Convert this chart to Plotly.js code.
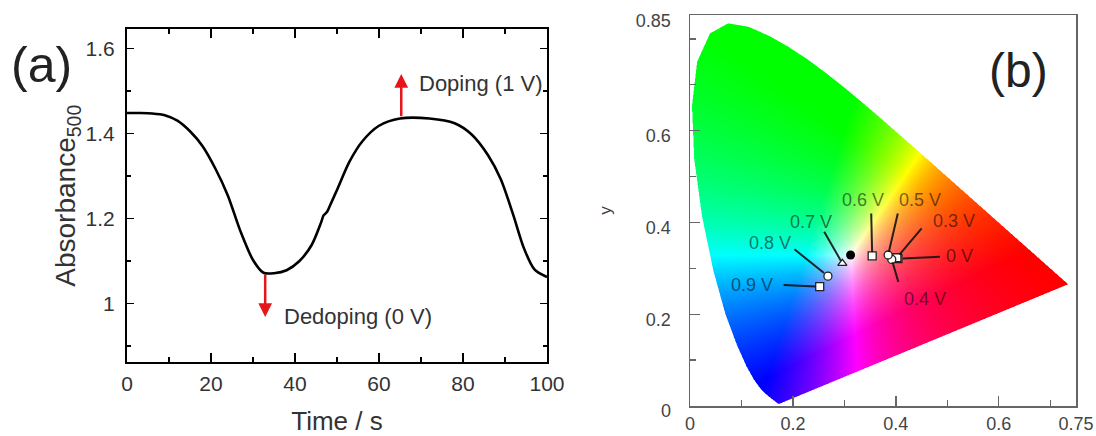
<!DOCTYPE html>
<html>
<head>
<meta charset="utf-8">
<script src="https://cdn.plot.ly/plotly-3.0.1.min.js"></script>
<style>
  html, body { margin: 0; padding: 0; background: #ffffff; }
  #chart { width: 1096px; height: 436px; }
</style>
</head>
<body>
<div id="chart"></div>
<script>
// ---------- (a) absorbance at 500 nm over one doping / dedoping cycle ----------
const timeS = [0, 3, 6, 9, 12, 15, 18, 21, 24, 27, 30, 32.5, 35, 38, 41, 44,
               46.2, 46.8, 47.6, 48.5, 50, 53, 56, 60, 65, 72, 78, 82, 86, 89,
               92, 94.5, 97, 100];
const absorbance500 = [1.448, 1.448, 1.447, 1.443, 1.430, 1.405, 1.370, 1.318,
                       1.254, 1.170, 1.102, 1.072, 1.071, 1.078, 1.099, 1.138,
                       1.190, 1.207, 1.215, 1.234, 1.267, 1.334, 1.381, 1.418,
                       1.435, 1.435, 1.424, 1.398, 1.348, 1.292, 1.207, 1.130,
                       1.080, 1.062];
const timeTicks = [0, 20, 40, 60, 80, 100];
const timeTickText = ['0', '20', '40', '60', '80', '100'];
const absTicks = [1, 1.2, 1.4, 1.6];
const absTickText = ['1', '1.2', '1.4', '1.6'];

// ---------- (b) CIE 1931 chromaticity at each applied potential ----------
const potentials = ['0 V', '0.3 V', '0.4 V', '0.5 V', '0.6 V', '0.7 V', '0.8 V', '0.9 V'];
const cieX = [0.404, 0.402, 0.392, 0.385, 0.354, 0.296, 0.268, 0.252];
const cieY = [0.321, 0.323, 0.3195, 0.329, 0.327, 0.311, 0.283, 0.260];
const markerSymbols = ['square', 'square', 'circle', 'circle', 'square',
                       'triangle-up', 'circle', 'square'];
const whitePointX = [0.312];
const whitePointY = [0.329];
const chromXTicks = [0, 0.2, 0.4, 0.6, 0.75];
const chromXTickText = ['0', '0.2', '0.4', '0.6', '0.75'];
const chromYTicks = [0, 0.2, 0.4, 0.6, 0.85];
const chromYTickText = ['0', '0.2', '0.4', '0.6', '0.85'];

// spectral locus of the CIE 1931 2° standard observer, 380–700 nm
const locusX = [0.1741, 0.1740, 0.1738, 0.1736, 0.1733, 0.1730, 0.1726, 0.1721,
                0.1714, 0.1703, 0.1689, 0.1669, 0.1644, 0.1611, 0.1566, 0.1510,
                0.1440, 0.1355, 0.1241, 0.1096, 0.0913, 0.0687, 0.0454, 0.0235,
                0.0082, 0.0039, 0.0139, 0.0389, 0.0743, 0.1142, 0.1547, 0.1929,
                0.2296, 0.2658, 0.3016, 0.3373, 0.3731, 0.4087, 0.4441, 0.4788,
                0.5125, 0.5448, 0.5752, 0.6029, 0.6270, 0.6482, 0.6658, 0.6801,
                0.6915, 0.7006, 0.7079, 0.7140, 0.7190, 0.7230, 0.7260, 0.7300,
                0.7320, 0.7334, 0.7347];
const locusY = [0.0050, 0.0050, 0.0049, 0.0049, 0.0048, 0.0048, 0.0048, 0.0048,
                0.0051, 0.0058, 0.0069, 0.0086, 0.0109, 0.0138, 0.0177, 0.0227,
                0.0297, 0.0399, 0.0578, 0.0868, 0.1327, 0.2007, 0.2950, 0.4127,
                0.5384, 0.6548, 0.7502, 0.8120, 0.8338, 0.8262, 0.8059, 0.7816,
                0.7543, 0.7243, 0.6923, 0.6589, 0.6245, 0.5896, 0.5547, 0.5202,
                0.4866, 0.4544, 0.4242, 0.3965, 0.3725, 0.3514, 0.3340, 0.3197,
                0.3083, 0.2993, 0.2920, 0.2859, 0.2809, 0.2770, 0.2740, 0.2700,
                0.2680, 0.2666, 0.2653];

const X_MAX = 0.75;
const Y_MAX = 0.852;

// xy chromaticity -> display RGB at full brightness (out-of-gamut parts clipped)
function xyToRgb(x, y) {
  const X = x / y, Y = 1, Z = (1 - x - y) / y;
  let r = 3.2406 * X - 1.5372 * Y - 0.4986 * Z;
  let g = -0.9689 * X + 1.8758 * Y + 0.0415 * Z;
  let b = 0.0557 * X - 0.2040 * Y + 1.0570 * Z;
  r = Math.max(r, 0); g = Math.max(g, 0); b = Math.max(b, 0);
  const m = Math.max(r, g, b) || 1;
  return [r, g, b].map(v => Math.round(255 * v / m));
}
function insideLocus(px, py) {
  let c = false;
  const n = locusX.length;
  for (let i = 0, j = n - 1; i < n; j = i++) {
    const xi = locusX[i], yi = locusY[i], xj = locusX[j], yj = locusY[j];
    if ((yi > py) !== (yj > py) && px < (xj - xi) * (py - yi) / (yj - yi) + xi) c = !c;
  }
  return c;
}
// colour field of the chromaticity diagram, one cell per screen pixel
function buildGamut(cols, rows) {
  const dx = X_MAX / cols, dy = Y_MAX / rows;
  const sub = [[-0.25, -0.25], [0.25, -0.25], [-0.25, 0.25], [0.25, 0.25]];
  const z = [];
  for (let r = 0; r < rows; r++) {
    const y = (r + 0.5) * dy;
    const row = [];
    for (let c = 0; c < cols; c++) {
      const x = (c + 0.5) * dx;
      let cov = 0;
      for (const s of sub) if (insideLocus(x + s[0] * dx, y + s[1] * dy)) cov++;
      if (!cov) { row.push([255, 255, 255, 0]); continue; }
      const rgb = xyToRgb(x, y);
      row.push([rgb[0], rgb[1], rgb[2], cov / 4]);
    }
    z.push(row);
  }
  return { z, dx, dy };
}
const gamut = buildGamut(386, 391);

const FONT = 'Liberation Sans, Arial, Helvetica, sans-serif';

const traces = [
  {
    type: 'scatter', mode: 'lines', x: timeS, y: absorbance500,
    xaxis: 'x', yaxis: 'y',
    line: { color: '#000000', width: 2.6, shape: 'spline', smoothing: 0.8 },
    hoverinfo: 'skip'
  },
  {
    type: 'image', xaxis: 'x2', yaxis: 'y2', colormodel: 'rgba',
    z: gamut.z, x0: gamut.dx / 2, y0: gamut.dy / 2, dx: gamut.dx, dy: gamut.dy,
    hoverinfo: 'skip'
  },
  {
    type: 'scatter', mode: 'markers', x: cieX, y: cieY, text: potentials,
    xaxis: 'x2', yaxis: 'y2',
    marker: { symbol: markerSymbols, size: 8, color: '#ffffff',
              line: { color: '#222222', width: 1.3 } },
    hoverinfo: 'text'
  },
  {
    type: 'scatter', mode: 'markers', x: whitePointX, y: whitePointY,
    xaxis: 'x2', yaxis: 'y2',
    marker: { symbol: 'circle', size: 9, color: '#000000' },
    hoverinfo: 'skip'
  }
];

// callout placement around each point (px): label centre, leader start, gap at the marker
const callouts = [
  { lx: 62,   ly: -2.7,  sx: 43.5, sy: -2,   gap: 5 },
  { lx: 57,   ly: -36.7, sx: 26,   sy: -31,  gap: 4 },
  { lx: 33,   ly: 39.7,  sx: 7,    sy: 24,   gap: 3 },
  { lx: 31.5, ly: -55,   sx: 10,   sy: -43,  gap: 3 },
  { lx: -8.7, ly: -56,   sx: -1,   sy: -44,  gap: 4 },
  { lx: -31.7,ly: -41.6, sx: -19,  sy: -33,  gap: 3 },
  { lx: -58,  ly: -33.5, sx: -35,  sy: -28,  gap: 5 },
  { lx: -68,  ly: -1.7,  sx: -37.6,sy: -1.7, gap: 4 }
];

const annotations = [];
potentials.forEach((p, i) => {
  const c = callouts[i];
  annotations.push({
    xref: 'x2', yref: 'y2', x: cieX[i], y: cieY[i],
    ax: c.sx, ay: c.sy, text: '',
    showarrow: true, arrowhead: 0, arrowwidth: 2, standoff: c.gap,
    arrowcolor: 'rgba(20,20,20,0.9)'
  });
  annotations.push({
    xref: 'x2', yref: 'y2', x: cieX[i], y: cieY[i],
    xshift: c.lx, yshift: -c.ly, text: p, showarrow: false,
    xanchor: 'center', yanchor: 'middle',
    font: { family: FONT, size: 18, color: 'rgba(0,0,0,0.55)' }
  });
});

// doping / dedoping arrows in (a)
annotations.push(
  { xref: 'x', yref: 'y', axref: 'x', ayref: 'y', x: 65.3, y: 1.54, ax: 65.3, ay: 1.437,
    text: '', showarrow: true, arrowhead: 2, arrowsize: 1.1,
    arrowwidth: 2.5, arrowcolor: '#e8141c', standoff: 0 },
  { xref: 'x', yref: 'y', axref: 'x', ayref: 'y', x: 32.9, y: 0.968, ax: 32.9, ay: 1.071,
    text: '', showarrow: true, arrowhead: 2, arrowsize: 1.1,
    arrowwidth: 2.5, arrowcolor: '#e8141c', standoff: 0 },
  { xref: 'x', yref: 'y', x: 69.0, y: 1.518, text: 'Doping (1 V)', showarrow: false,
    xanchor: 'left', yanchor: 'middle', font: { family: FONT, size: 22, color: '#333333' } },
  { xref: 'x', yref: 'y', x: 36.8, y: 0.968, text: 'Dedoping (0 V)', showarrow: false,
    xanchor: 'left', yanchor: 'middle', font: { family: FONT, size: 22, color: '#333333' } },
  { xref: 'paper', yref: 'paper', x: 41 / 1096, y: 1 - 65 / 436, text: '(a)', showarrow: false,
    xanchor: 'center', yanchor: 'middle', font: { family: FONT, size: 50, color: '#222222' } },
  { xref: 'paper', yref: 'paper', x: 1018 / 1096, y: 1 - 70 / 436, text: '(b)', showarrow: false,
    xanchor: 'center', yanchor: 'middle', font: { family: FONT, size: 48, color: '#222222' } }
);

const layout = {
  width: 1096, height: 436,
  margin: { l: 0, r: 0, t: 0, b: 0 },
  paper_bgcolor: '#ffffff', plot_bgcolor: '#ffffff',
  showlegend: false,
  font: { family: FONT, color: '#333333' },
  xaxis: {
    domain: [127 / 1096, 547 / 1096], anchor: 'y', range: [0, 100],
    tickmode: 'array', tickvals: timeTicks, ticktext: timeTickText,
    ticks: 'inside', ticklen: 9, tickwidth: 1.6, tickcolor: '#000000',
    minor: { tickmode: 'linear', tick0: 0, dtick: 10, ticks: 'inside', ticklen: 5,
             tickwidth: 1.6, tickcolor: '#000000' },
    showline: true, linecolor: '#000000', linewidth: 2, mirror: 'ticks',
    showgrid: false, zeroline: false, ticklabelstandoff: 2,
    tickfont: { family: FONT, size: 21, color: '#333333' },
    title: { text: 'Time / s', font: { family: FONT, size: 26, color: '#333333' }, standoff: 20 }
  },
  yaxis: {
    domain: [74 / 436, 406.7 / 436], anchor: 'x', range: [0.862, 1.645],
    tickmode: 'array', tickvals: absTicks, ticktext: absTickText,
    ticks: 'inside', ticklen: 7, tickwidth: 1.6, tickcolor: '#000000',
    minor: { tickmode: 'linear', tick0: 0, dtick: 0.1, ticks: 'inside', ticklen: 4,
             tickwidth: 1.6, tickcolor: '#000000' },
    showline: true, linecolor: '#000000', linewidth: 2, mirror: 'ticks',
    showgrid: false, zeroline: false, ticklabelstandoff: 6,
    tickfont: { family: FONT, size: 21, color: '#333333' },
    title: { text: 'Absorbance<sub>500</sub>', font: { family: FONT, size: 28, color: '#333333' }, standoff: 2 }
  },
  xaxis2: {
    domain: [690 / 1096, 1076 / 1096], anchor: 'y2', range: [0, X_MAX], autorange: false,
    tickmode: 'array', tickvals: chromXTicks, ticktext: chromXTickText,
    ticks: 'inside', ticklen: 10, tickwidth: 1.4, tickcolor: '#666666',
    minor: { tickmode: 'linear', tick0: 0, dtick: 0.1, ticks: 'inside', ticklen: 6,
             tickwidth: 1.4, tickcolor: '#666666' },
    showline: true, linecolor: '#666666', linewidth: 1.5, mirror: true,
    showgrid: false, zeroline: false, ticklabelstandoff: 1,
    tickfont: { family: FONT, size: 18, color: '#444444' }
  },
  yaxis2: {
    domain: [30 / 436, 421 / 436], anchor: 'x2', range: [0, Y_MAX], autorange: false,
    scaleanchor: false,
    tickmode: 'array', tickvals: chromYTicks, ticktext: chromYTickText,
    ticks: 'inside', ticklen: 10, tickwidth: 1.4, tickcolor: '#666666',
    minor: { tickmode: 'linear', tick0: 0, dtick: 0.1, ticks: 'inside', ticklen: 6,
             tickwidth: 1.4, tickcolor: '#666666' },
    showline: true, linecolor: '#666666', linewidth: 1.5, mirror: true,
    showgrid: false, zeroline: false, ticklabelstandoff: 14, ticklabelshift: 5,
    tickfont: { family: FONT, size: 18, color: '#444444' },
    title: { text: 'y', font: { family: FONT, size: 17, color: '#444444' }, standoff: 20 }
  },
  annotations: annotations
};

Plotly.newPlot('chart', traces, layout, { staticPlot: true, displayModeBar: false });
</script>
</body>
</html>
